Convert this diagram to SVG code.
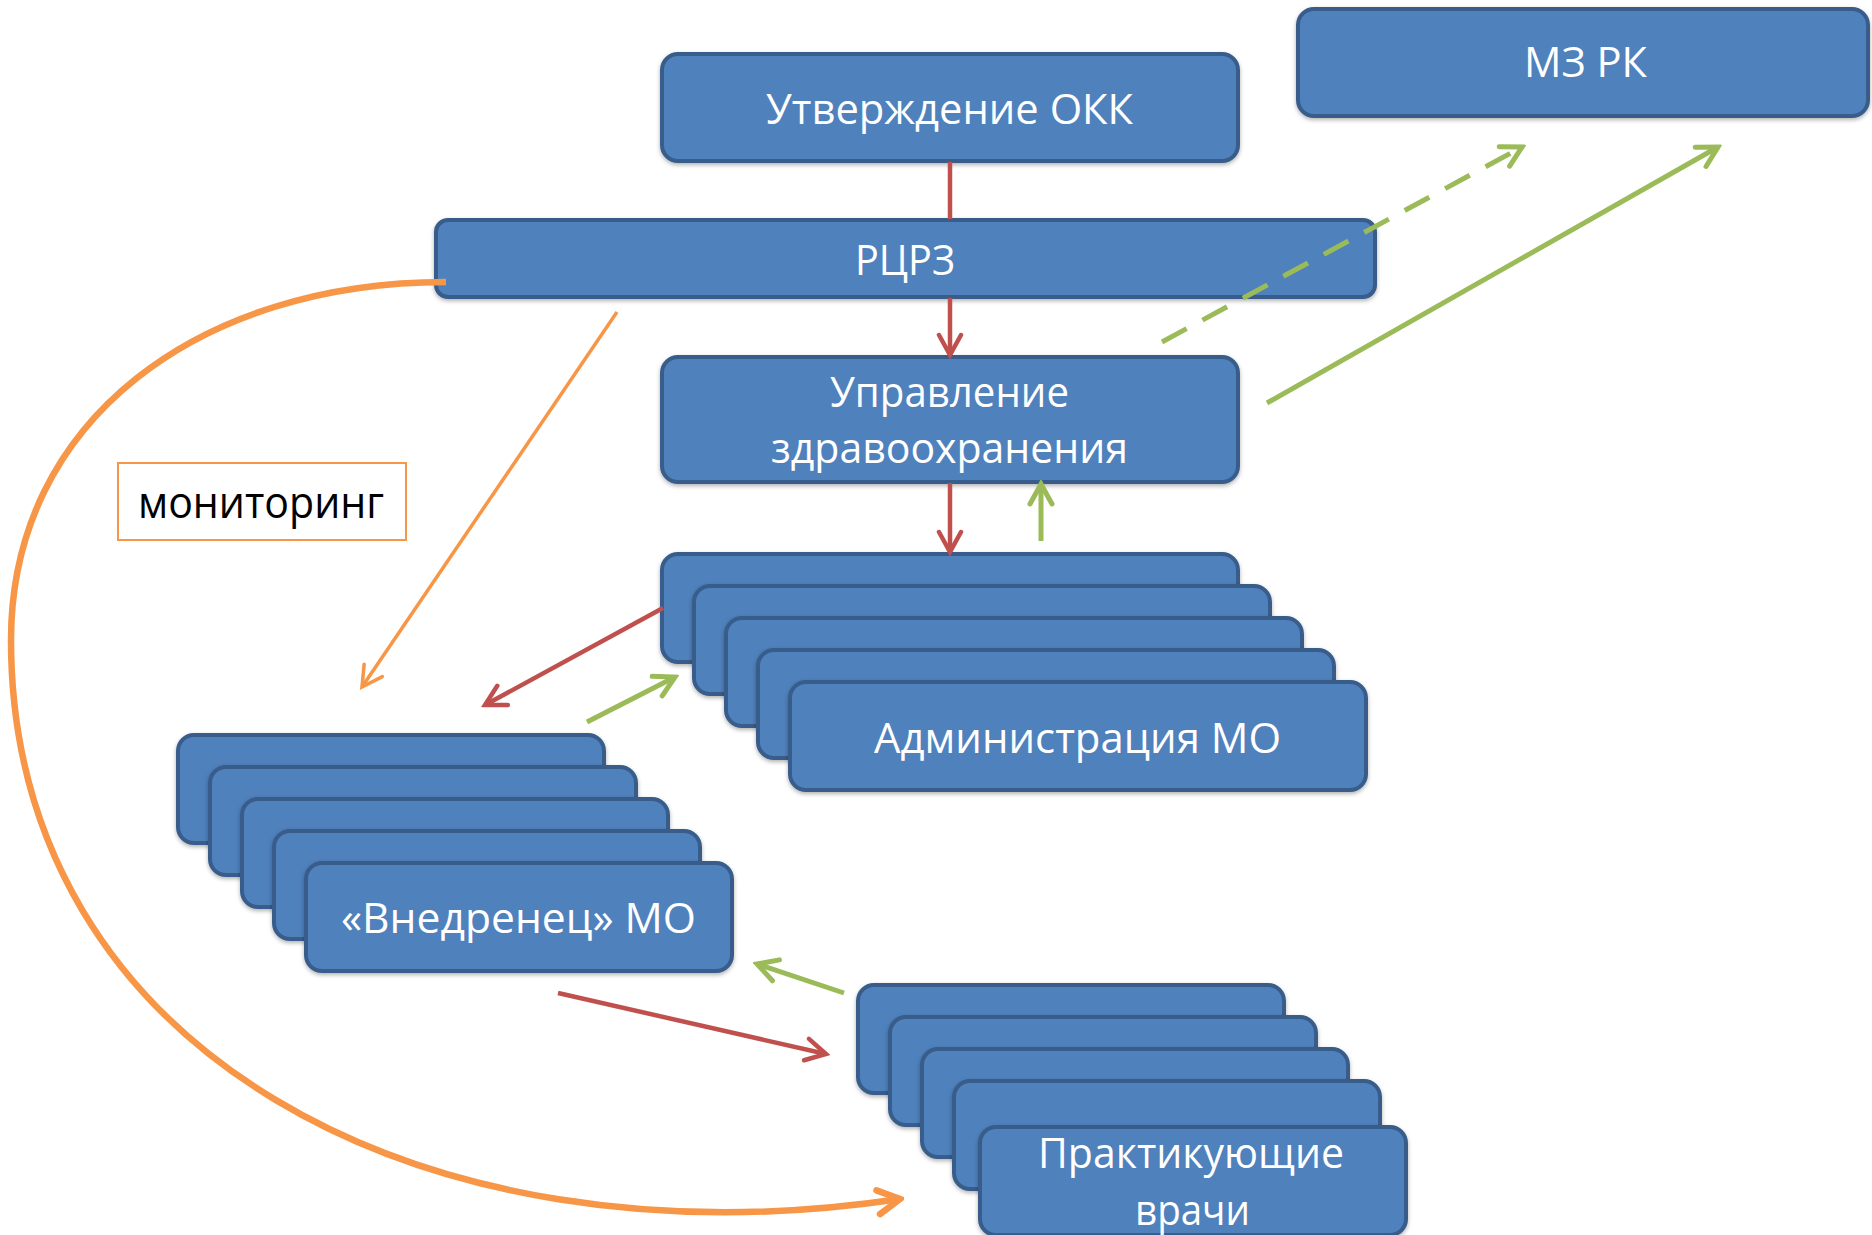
<svg xmlns="http://www.w3.org/2000/svg" width="1872" height="1235" viewBox="0 0 1872 1235">
<defs>
<style>
.box{fill:#4F81BD;stroke:#385D8A;stroke-width:4;filter:url(#sh)}
.t{font-family:"Open Sans","Noto Sans",sans-serif;font-size:42px;fill:#FFFFFF}
.m{font-family:"Open Sans","Noto Sans",sans-serif;font-size:44px;fill:#000000}
.red{stroke:#C0504D;stroke-width:4.5;fill:none}
.grn{stroke:#9BBB59;stroke-width:5;fill:none}
.org{stroke:#F79646;fill:none}
</style>
<filter id="sh" x="-10%" y="-10%" width="120%" height="130%">
<feDropShadow dx="0" dy="2" stdDeviation="2" flood-color="#000" flood-opacity="0.3"/>
</filter>
<marker id="aR" markerUnits="userSpaceOnUse" viewBox="-26 -16 30 32" markerWidth="30" markerHeight="32" refX="0" refY="0" orient="auto">
<path d="M-20,-11 L0,0 L-20,11" fill="none" stroke="#C0504D" stroke-width="4.5" stroke-linecap="round"/>
</marker>
<marker id="aG" markerUnits="userSpaceOnUse" viewBox="-26 -16 30 32" markerWidth="30" markerHeight="32" refX="0" refY="0" orient="auto">
<path d="M-20,-11 L0,0 L-20,11" fill="none" stroke="#9BBB59" stroke-width="5" stroke-linecap="round"/>
</marker>
<marker id="aO" markerUnits="userSpaceOnUse" viewBox="-26 -16 30 32" markerWidth="30" markerHeight="32" refX="0" refY="0" orient="auto">
<path d="M-20,-11 L0,0 L-20,11" fill="none" stroke="#F79646" stroke-width="3.5" stroke-linecap="round"/>
</marker>
<marker id="aO2" markerUnits="userSpaceOnUse" viewBox="-28 -18 32 36" markerWidth="32" markerHeight="36" refX="0" refY="0" orient="auto">
<path d="M-22,-12 L0,0 L-22,12" fill="none" stroke="#F79646" stroke-width="6.5" stroke-linecap="round"/>
</marker>
</defs>
<rect width="1872" height="1235" fill="#FFFFFF"/>

<g id="node-okk">
<rect class="box" x="662" y="54" width="576" height="107" rx="16"/>
<text class="t" x="766" y="124" textLength="367" lengthAdjust="spacingAndGlyphs">Утверждение ОКК</text>
</g>
<g id="node-mzrk">
<rect class="box" x="1298" y="9" width="570" height="107" rx="16"/>
<text class="t" x="1524" y="77" textLength="123" lengthAdjust="spacingAndGlyphs">МЗ РК</text>
</g>
<g id="node-rcrz">
<rect class="box" x="436" y="220" width="939" height="77" rx="12"/>
<text class="t" x="855" y="275" textLength="100" lengthAdjust="spacingAndGlyphs">РЦРЗ</text>
</g>
<g id="node-upr">
<rect class="box" x="662" y="357" width="576" height="125" rx="16"/>
<text class="t" x="830" y="407" textLength="239" lengthAdjust="spacingAndGlyphs">Управление</text>
<text class="t" x="771" y="463" textLength="357" lengthAdjust="spacingAndGlyphs">здравоохранения</text>
</g>
<g id="node-adm">
<rect class="box" x="662" y="554" width="576" height="108" rx="16"/>
<rect class="box" x="694" y="586" width="576" height="108" rx="16"/>
<rect class="box" x="726" y="618" width="576" height="108" rx="16"/>
<rect class="box" x="758" y="650" width="576" height="108" rx="16"/>
<rect class="box" x="790" y="682" width="576" height="108" rx="16"/>
<text class="t" x="874" y="753" textLength="407" lengthAdjust="spacingAndGlyphs">Администрация МО</text>
</g>
<g id="node-vnedr">
<rect class="box" x="178" y="735" width="426" height="108" rx="16"/>
<rect class="box" x="210" y="767" width="426" height="108" rx="16"/>
<rect class="box" x="242" y="799" width="426" height="108" rx="16"/>
<rect class="box" x="274" y="831" width="426" height="108" rx="16"/>
<rect class="box" x="306" y="863" width="426" height="108" rx="16"/>
<text class="t" x="341" y="933" textLength="355" lengthAdjust="spacingAndGlyphs">«Внедренец» МО</text>
</g>
<g id="node-vrachi">
<rect class="box" x="858" y="985" width="426" height="108" rx="16"/>
<rect class="box" x="890" y="1017" width="426" height="108" rx="16"/>
<rect class="box" x="922" y="1049" width="426" height="108" rx="16"/>
<rect class="box" x="954" y="1081" width="426" height="108" rx="16"/>
<rect class="box" x="980" y="1127" width="426" height="108" rx="16"/>
<text class="t" x="1038" y="1168" textLength="306" lengthAdjust="spacingAndGlyphs">Практикующие</text>
<text class="t" x="1135" y="1225" textLength="115" lengthAdjust="spacingAndGlyphs">врачи</text>
</g>
<g id="node-monitoring">
<rect x="118" y="463" width="288" height="77" fill="#FFFFFF" stroke="#F79646" stroke-width="2"/>
<text class="m" x="138" y="518" textLength="246" lengthAdjust="spacingAndGlyphs">мониторинг</text>
</g>

<g id="connectors">
<line class="red" x1="950" y1="162" x2="950" y2="219"/>
<line class="red" x1="950" y1="298" x2="950" y2="355" marker-end="url(#aR)"/>
<line class="red" x1="950" y1="483" x2="950" y2="552" marker-end="url(#aR)"/>
<line class="grn" x1="1041" y1="541" x2="1041" y2="484" marker-end="url(#aG)"/>
<line class="red" x1="663" y1="608" x2="485" y2="705" marker-end="url(#aR)"/>
<line class="grn" x1="587" y1="722" x2="675" y2="677" marker-end="url(#aG)"/>
<line class="org" stroke-width="3.5" x1="617" y1="312" x2="362" y2="687" marker-end="url(#aO)"/>
<line class="grn" stroke-dasharray="28 18" x1="1162" y1="342" x2="1522" y2="147" marker-end="url(#aG)"/>
<line class="grn" x1="1267" y1="403" x2="1718" y2="147" marker-end="url(#aG)"/>
<line class="grn" x1="844" y1="993" x2="757" y2="964" marker-end="url(#aG)"/>
<line class="red" x1="558" y1="993" x2="826" y2="1054" marker-end="url(#aR)"/>
<path class="org" stroke-width="6.5" d="M446,282 C200,282 11,420 11,640 C11,1050 420,1270 900,1199" marker-end="url(#aO2)"/>
</g>
</svg>
